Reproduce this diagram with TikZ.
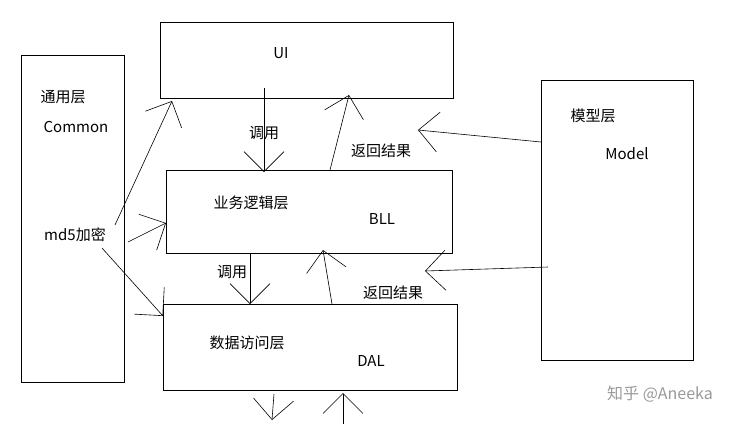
\documentclass[tikz,border=0pt]{standalone}
\usepackage{fontspec}
\setmainfont{Noto Sans}
\newfontfamily\cjk{Noto Sans CJK SC}
\usetikzlibrary{arrows.meta}
\begin{document}
\begin{tikzpicture}[x=1pt,y=-1pt,
  box/.style={draw,line width=0.8pt},
  lbl/.style={font=\cjk\fontsize{15}{17}\selectfont},
  arr/.style={line width=0.6pt,-{Straight Barb[length=20pt,width=40pt,line width=0.6pt]}}]
\useasboundingbox (0,0) rectangle (739,424);
\draw[box] (21,55) rectangle (124,382);
\draw[box] (160,22) rectangle (453,98);
\draw[box] (166,170) rectangle (452,253);
\draw[box] (163,304) rectangle (457,390);
\draw[box] (541,80) rectangle (693,360);
\node[lbl] (t1) at (63,97) {通用层};
\node[lbl] (t2) at (76,127) {Common};
\node[lbl] (t3) at (75,235) {md5加密};
\node[lbl] (t4) at (281,53) {UI};
\node[lbl] (t5) at (264,133) {调用};
\node[lbl] (t6) at (381,151) {返回结果};
\node[lbl] (t7) at (251,203) {业务逻辑层};
\node[lbl] (t8) at (382,219) {BLL};
\node[lbl] (t9) at (232,272) {调用};
\node[lbl] (t10) at (393,293) {返回结果};
\node[lbl] (t11) at (247,343) {数据访问层};
\node[lbl] (t12) at (371,361) {DAL};
\node[lbl] (t13) at (593,116) {模型层};
\node[lbl] (t14) at (627,154) {Model};
\node[font=\cjk\fontsize{16}{18}\selectfont,text=black!40] (wm) at (660,394) {知乎 @Aneeka};
\draw[arr] (264,88) -- (264,172);
\draw[arr] (330,170) -- (349,95);
\draw[arr] (541,142) -- (418,130);
\draw[arr] (548,267) -- (425,271);
\draw[arr] (250,253) -- (250,304);
\draw[arr] (332,304) -- (323,250);
\draw[arr] (274,394) -- (272,420);
\draw[arr] (343,424) -- (343,393);
\draw[arr] (115,225) -- (172,101);
\draw[arr] (128,242) -- (166,223);
\draw[arr] (102,248) -- (163,316);
\end{tikzpicture}
\end{document}
